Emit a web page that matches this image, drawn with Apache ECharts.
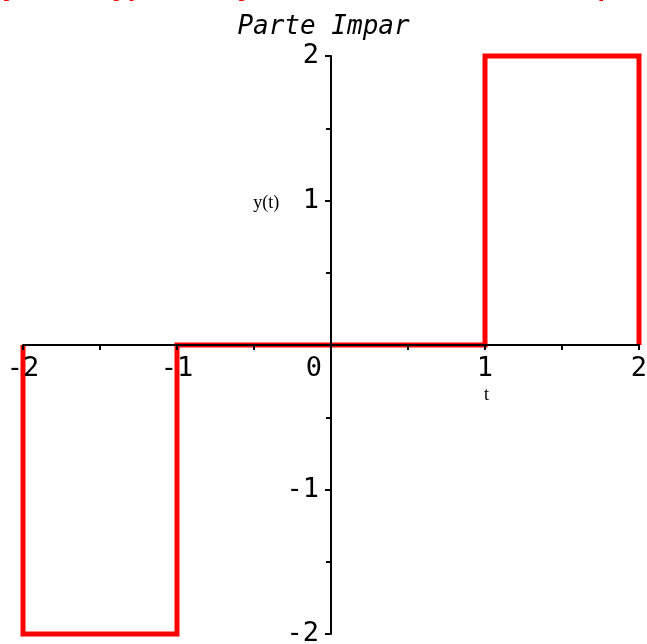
<!DOCTYPE html>
<html>
<head>
<meta charset="utf-8">
<script src="https://cdn.jsdelivr.net/npm/echarts@6/dist/echarts.min.js"></script>
<style>
  html, body { margin: 0; padding: 0; background: #fff; }
  #chart { width: 647px; height: 644px; }
</style>
</head>
<body>
<div id="chart"></div>
<script>
// parte impar de y(t)
var tValues = [-2, -2, -1, -1, 1, 1, 2, 2];
var yValues = [0, -2, -2, 0, 0, 2, 2, 0];
var xTicks = [-2, -1, 0, 1, 2];
var yTicks = [-2, -1, 0, 1, 2];

var mono = 'DejaVu Sans Mono';
var points = tValues.map(function (t, i) { return [t, yValues[i]]; });

var chart = echarts.init(document.getElementById('chart'));
var option = {
  animation: false,
  title: [{
    text: 'y(t) = yp(t) + yi(t) :  Parte Par e Impar',
    left: 'center',
    top: -30,
    textStyle: { fontFamily: mono, fontSize: 26, fontWeight: 'bold', color: '#ff0000' }
  }, {
    text: 'Parte Impar',
    left: 'center',
    top: 9,
    textStyle: { fontFamily: mono, fontSize: 26, fontStyle: 'italic', fontWeight: 'normal', color: '#000' }
  }],
  grid: { left: 23, right: 8, top: 56, bottom: 10, containLabel: false, outerBoundsMode: 'none' },
  xAxis: {
    type: 'value',
    min: xTicks[0], max: xTicks[xTicks.length - 1], interval: 1,
    z: 5,
    splitLine: { show: false },
    axisLine: { onZero: false, lineStyle: { color: '#000', width: 2 } },
    axisTick: { show: true, length: 5, lineStyle: { color: '#000', width: 2 } },
    minorTick: { show: true, splitNumber: 2, length: 5, lineStyle: { color: '#000', width: 2 } },
    axisLabel: {
      margin: 10,
      fontFamily: mono, fontSize: 27, color: '#000',
      formatter: function (v) {
        return v === 0 ? '{z|0}' : String(v);
      },
      rich: { z: { fontFamily: mono, fontSize: 27, color: '#000', padding: [0, 34, 0, 0] } },
      showMinLabel: true, showMaxLabel: true
    }
  },
  yAxis: {
    type: 'value',
    min: yTicks[0], max: yTicks[yTicks.length - 1], interval: 1,
    z: 5,
    splitLine: { show: false },
    axisLine: { onZero: false, lineStyle: { color: '#000', width: 2 } },
    axisTick: { show: true, length: 6, lineStyle: { color: '#000', width: 2 } },
    minorTick: { show: true, splitNumber: 2, length: 5, lineStyle: { color: '#000', width: 2 } },
    axisLabel: {
      margin: 12,
      fontFamily: mono, fontSize: 27, color: '#000',
      formatter: function (v) { return v === 0 ? '' : String(v); },
      showMinLabel: true, showMaxLabel: true
    }
  },
  series: [{
    type: 'line',
    data: points,
    symbol: 'none',
    clip: false,
    z: 1,
    lineStyle: { color: '#ff0000', width: 5, join: 'miter' }
  }]
};
chart.setOption(option);

// mover los ejes al origen usando la escala del grafico
var origin = chart.convertToPixel({ gridIndex: 0 }, [0, 0]);
var corner = chart.convertToPixel({ gridIndex: 0 }, [xTicks[0], yTicks[0]]);
var pY = chart.convertToPixel({ gridIndex: 0 }, [-0.42, 0.98]);
var pT = chart.convertToPixel({ gridIndex: 0 }, [1.01, -0.35]);
chart.setOption({
  xAxis: { offset: -(corner[1] - origin[1]) },
  yAxis: { offset: -(origin[0] - corner[0]) },
  graphic: [{
    type: 'text', x: pY[0], y: pY[1],
    style: { text: 'y(t)', font: '18px "Liberation Serif"', fill: '#000', align: 'center', verticalAlign: 'middle' }
  }, {
    type: 'text', x: pT[0], y: pT[1],
    style: { text: 't', font: '18px "Liberation Serif"', fill: '#000', align: 'center', verticalAlign: 'middle' }
  }]
});
</script>
</body>
</html>
